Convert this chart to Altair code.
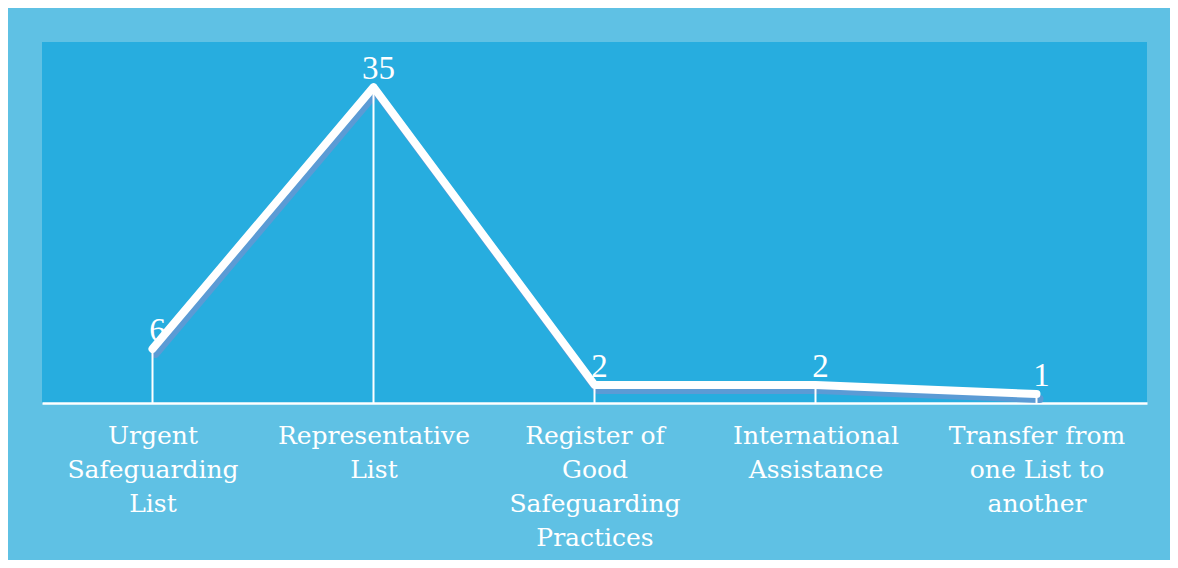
import altair as alt
import pandas as pd

categories = [
    "Urgent|Safeguarding|List",
    "Representative|List",
    "Register of|Good|Safeguarding|Practices",
    "International|Assistance",
    "Transfer from|one List to|another",
]
values = [6, 35, 2, 2, 1]

df = pd.DataFrame({"category": categories, "value": values})

OUTER = "#5FC1E4"
INNER = "#27ADDF"
SHADOW = "#5B9BD5"

x = alt.X(
    "category:N",
    sort=categories,
    scale=alt.Scale(type="point", padding=0.5),
    axis=alt.Axis(
        title=None,
        labelAngle=0,
        labelExpr="split(datum.label, '|')",
        labelFont="DejaVu Serif",
        labelFontSize=25,
        labelColor="white",
        labelLineHeight=34,
        labelPadding=20,
        labelLimit=0,
        labelOverlap=False,
        labelFlush=False,
        ticks=False,
        domainColor="white",
        domainWidth=2.5,
        grid=False,
    ),
)
y = alt.Y("value:Q", scale=alt.Scale(domain=[0, 40], nice=False), axis=None)

base = alt.Chart(df)

shadow = base.mark_line(
    color=SHADOW, strokeWidth=8, xOffset=3, yOffset=5, opacity=1,
    strokeCap="round", strokeJoin="round"
).encode(x=x, y=y)

rules = base.mark_rule(color="white", strokeWidth=2).encode(
    x=x, y=y, y2=alt.datum(0)
)

line = base.mark_line(
    color="white", strokeWidth=8, strokeCap="round", strokeJoin="round"
).encode(x=x, y=y)

labels = base.mark_text(
    font="Liberation Serif", fontSize=33, color="white",
    baseline="alphabetic", align="center", dx=5, dy=-8
).encode(x=x, y=y, text="value:Q")

chart = (
    alt.layer(shadow, rules, line, labels)
    .properties(
        width=1105,
        height=361,
        autosize=alt.AutoSizeParams(type="none"),
        padding={"left": 34, "top": 34, "right": 23, "bottom": 157},
        background=OUTER,
    )
    .configure_view(fill=INNER, strokeWidth=0)
)

chart.save("out.html", embed_options={"renderer": "svg", "actions": False})
